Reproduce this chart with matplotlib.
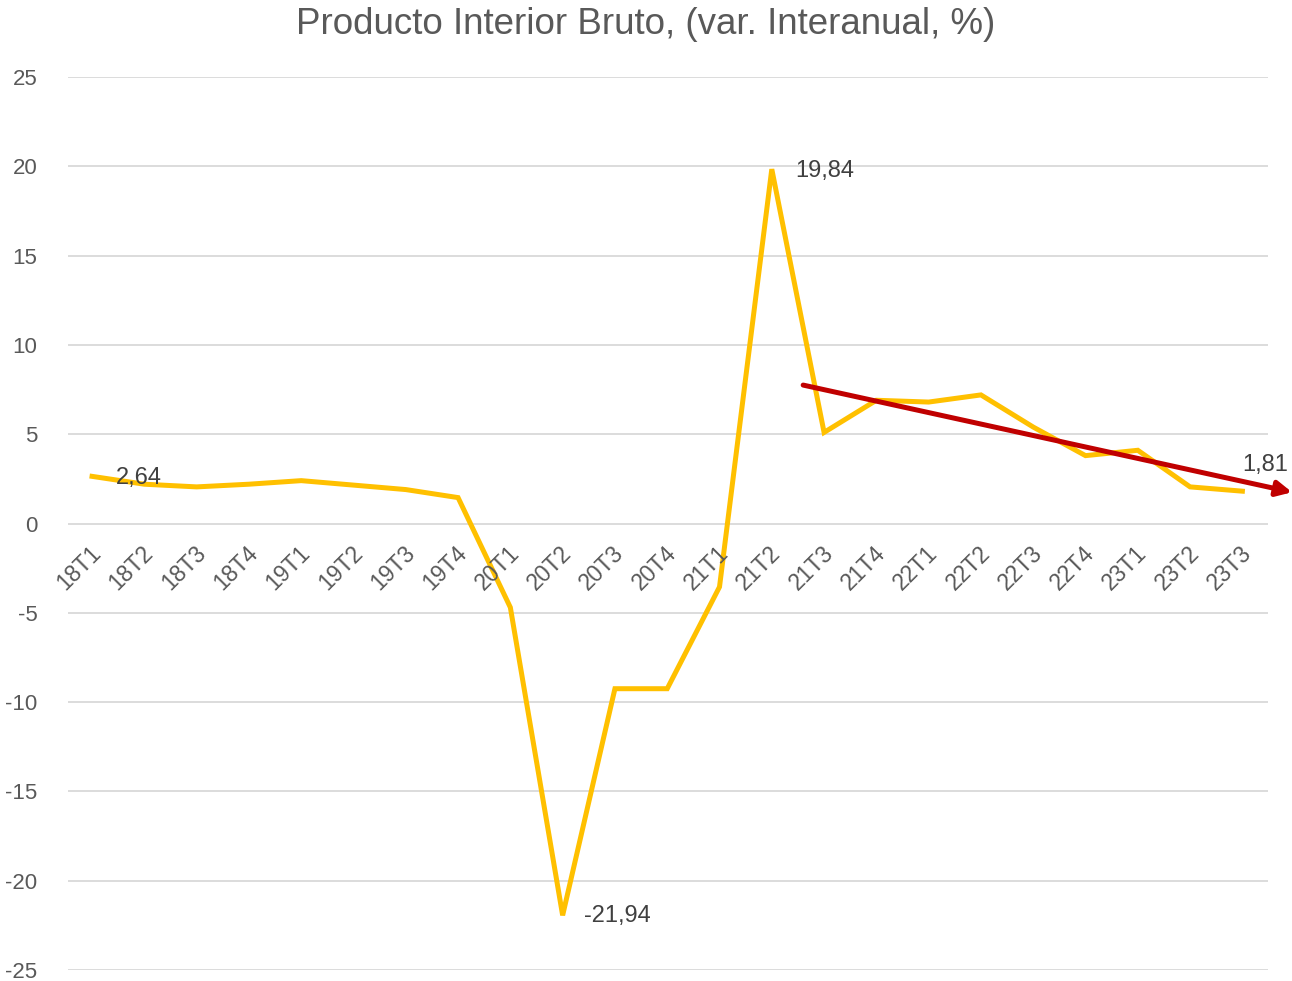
import matplotlib
matplotlib.use("Agg")
import matplotlib.pyplot as plt

# Datos: PIB, variación interanual (%)
trimestres = ["18T1", "18T2", "18T3", "18T4", "19T1", "19T2", "19T3", "19T4",
              "20T1", "20T2", "20T3", "20T4", "21T1", "21T2", "21T3", "21T4",
              "22T1", "22T2", "22T3", "22T4", "23T1", "23T2", "23T3"]
pib = [2.64, 2.2, 2.05, 2.2, 2.4, 2.15, 1.9, 1.45,
       -4.7, -21.94, -9.25, -9.25, -3.55, 19.84, 5.1, 6.9,
       6.8, 7.2, 5.4, 3.8, 4.1, 2.05, 1.81]

# Tendencia (flecha roja): inicio y fin en coordenadas de datos
tendencia_x = [13.6, 22.95]
tendencia_y = [7.75, 1.75]

# Etiquetas de valores destacados: (indice, texto, dx, dy)
etiquetas = [(0, "2,64", 0.45, -0.1), (9, "-21,94", 0.4, -0.05),
             (13, "19,84", 0.45, -0.1), (22, "1,81", 0.0, 1.47)]

plt.rcParams['font.family'] = ['Liberation Sans', 'DejaVu Sans']
plt.rcParams['axes.unicode_minus'] = False

fig = plt.figure(figsize=(12.92, 9.81), dpi=100)
ax = fig.add_axes([68 / 1292, 1 - 970 / 981, 1200 / 1292, 893 / 981])

x = list(range(len(trimestres)))
ax.plot(x, pib, color="#FFC000", linewidth=3.6, solid_joinstyle="miter", zorder=3)

ax.annotate("", xy=(tendencia_x[1], tendencia_y[1]), xytext=(tendencia_x[0], tendencia_y[0]),
            arrowprops=dict(arrowstyle="-|>,head_length=0.9,head_width=0.45",
                            color="#C00000", lw=3.6, shrinkA=0, shrinkB=0),
            annotation_clip=False, zorder=4)

for i, txt, dx, dy in etiquetas:
    ax.text(i + dx, pib[i] + dy, txt, fontsize=17, color="#404040",
            ha="left", va="center", zorder=5)

ax.set_ylim(-25, 25)
ax.set_xlim(-0.46, 22.49)
ax.set_yticks(range(-25, 26, 5))
ax.yaxis.grid(True, color="#D9D9D9", linewidth=1.3)
ax.set_axisbelow(True)
for s in ax.spines.values():
    s.set_visible(False)
ax.tick_params(axis="y", length=0, labelsize=16, labelcolor="#595959", pad=22)
ax.set_xticks([])

# Etiquetas del eje X sobre la línea de cero
for i, t in enumerate(trimestres):
    ax.text(i - 0.05, -1.0, t, rotation=45, rotation_mode="anchor",
            ha="right", va="top", fontsize=16.5, color="#595959")

fig.text(0.5, 1 - 25 / 981, "Producto Interior Bruto, (var. Interanual, %)",
         ha="center", va="center", fontsize=26.5, color="#595959")

fig.savefig("out.png", dpi=100)
